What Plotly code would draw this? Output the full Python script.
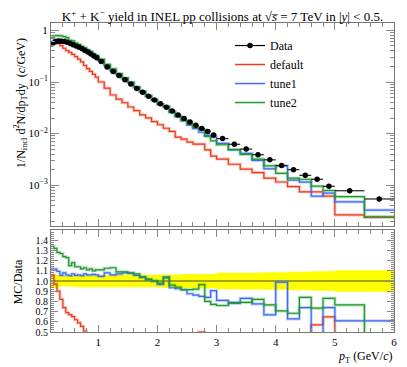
import plotly.graph_objects as go

# ---------------- data ----------------
bin_edges = [0.20, 0.25, 0.30, 0.35, 0.40, 0.45, 0.50, 0.55, 0.60, 0.65, 0.70, 0.75,
             0.80, 0.85, 0.90, 0.95, 1.00, 1.1, 1.2, 1.3, 1.4, 1.5, 1.6, 1.7, 1.8,
             1.9, 2.0, 2.1, 2.2, 2.3, 2.4, 2.5, 2.6, 2.7, 2.8, 2.9, 3.0, 3.2, 3.4,
             3.6, 3.8, 4.0, 4.2, 4.4, 4.6, 4.8, 5.0, 5.5, 6.0]

data_yield = [0.55, 0.60, 0.62, 0.62, 0.61, 0.59, 0.56, 0.53, 0.50, 0.47, 0.44, 0.41,
              0.38, 0.35, 0.32, 0.295, 0.25, 0.195, 0.16, 0.133, 0.11, 0.091, 0.075,
              0.063, 0.053, 0.045, 0.038, 0.0325, 0.0275, 0.023, 0.0195, 0.0167,
              0.0145, 0.0125, 0.011, 0.0094, 0.0080, 0.0062, 0.0050, 0.0039, 0.0031,
              0.0024, 0.0020, 0.00155, 0.0013, 0.00095, 0.00078, 0.00054]

data_rel_err = [0.065, 0.065, 0.06, 0.055, 0.055, 0.055, 0.055, 0.055, 0.06, 0.06, 0.06,
                0.06, 0.06, 0.06, 0.06, 0.06, 0.062, 0.062, 0.062, 0.062, 0.062, 0.062,
                0.062, 0.062, 0.062, 0.062, 0.065, 0.065, 0.065, 0.065, 0.068, 0.068,
                0.07, 0.07, 0.07, 0.07, 0.08, 0.08, 0.082, 0.082, 0.085, 0.085, 0.09,
                0.09, 0.095, 0.095, 0.105, 0.105]

# MC / Data ratios (and main panel where off-scale)
default_ratio = [1.06, 0.97, 0.90, 0.82, 0.74, 0.69, 0.67, 0.65, 0.62, 0.59, 0.556, 0.51,
                 0.48, 0.46, 0.44, 0.42, 0.40, 0.39, 0.35, 0.35, 0.36, 0.36, 0.37, 0.365,
                 0.38, 0.38, 0.39, 0.39, 0.40, 0.37, 0.40, 0.41, 0.43, 0.50, 0.44, 0.39,
                 0.40, 0.41, 0.41, 0.45, 0.44, 0.48, 0.47, 0.48, 0.57, 0.648, 0.34, 0.44]

tune1_ratio = [1.12, 1.118, 1.095, 1.056, 1.08, 1.06, 1.053, 1.07, 1.056, 1.06, 1.053,
               1.07, 1.06, 1.06, 1.065, 1.06, 1.046, 1.08, 1.06, 1.07, 1.08, 1.075, 1.056,
               1.036, 1.013, 1.0, 0.967, 1.04, 0.934, 0.924, 0.915, 0.875, 0.862, 0.85,
               0.84, 0.905, 0.81, 0.78, 0.83, 0.775, 0.668, 0.99, 0.628, 0.74, 0.47,
               0.74, 0.61, 0.61]

tune2_ratio = [1.34, 1.32, 1.28, 1.27, 1.24, 1.23, 1.15, 1.18, 1.14, 1.14, 1.12, 1.13,
               1.11, 1.12, 1.10, 1.11, 1.11, 1.125, 1.13, 1.09, 1.09, 1.08, 1.07, 1.04,
               1.02, 1.00, 0.98, 1.03, 0.96, 0.94, 0.915, 0.915, 0.92, 0.965, 0.80, 0.77,
               0.76, 0.79, 0.79, 0.82, 0.766, 0.707, 0.684, 0.84, 0.734, 0.83, 0.766, 0.45]

series_names = ["default", "tune1", "tune2"]
series_colors = ["#EE3A1E", "#3A6BF2", "#1E9A2A"]
series_ratios = [default_ratio, tune1_ratio, tune2_ratio]

x_ticks = [1, 2, 3, 4, 5, 6]
ratio_ticks = [0.5, 0.6, 0.7, 0.8, 0.9, 1.0, 1.1, 1.2, 1.3, 1.4]
log_ticks = [1e-3, 1e-2, 1e-1, 1]
log_ticktext = ["10<sup>−3</sup>", "10<sup>−2</sup>", "10<sup>−1</sup>", "1"]

# ---------------- derived ----------------
n = len(data_yield)
centers = [(bin_edges[i] + bin_edges[i + 1]) / 2 for i in range(n)]
halfw = [(bin_edges[i + 1] - bin_edges[i]) / 2 for i in range(n)]
data_err = [data_yield[i] * data_rel_err[i] for i in range(n)]

def steps(vals):
    return list(vals) + [vals[-1]]

FONT = "Liberation Serif"
fig = go.Figure()

# MC histograms (main panel)
for name, col, rat in zip(series_names, series_colors, series_ratios):
    mc = [data_yield[i] * rat[i] for i in range(n)]
    fig.add_trace(go.Scatter(x=bin_edges, y=steps(mc), mode="lines", line_shape="hv",
                             line=dict(color=col, width=3), opacity=0.3,
                             showlegend=False, hoverinfo="skip", xaxis="x", yaxis="y"))
    fig.add_trace(go.Scatter(x=bin_edges, y=steps(mc), mode="lines", line_shape="hv",
                             line=dict(color=col, width=1.2), name=name,
                             showlegend=False, xaxis="x", yaxis="y"))

# data points
fig.add_trace(go.Scatter(x=centers, y=data_yield, mode="markers",
                         marker=dict(color="black", size=5.5),
                         error_x=dict(type="data", array=halfw, color="#222", thickness=1.2, width=0),
                         error_y=dict(type="data", array=data_err, color="#222", thickness=1.2, width=0),
                         showlegend=False, xaxis="x", yaxis="y"))

# legend entries
fig.add_trace(go.Scatter(x=[None], y=[None], mode="lines+markers", name="Data",
                         line=dict(color="black", width=1.2), marker=dict(color="black", size=5.5),
                         xaxis="x", yaxis="y"))
for name, col in zip(series_names, series_colors):
    fig.add_trace(go.Scatter(x=[None], y=[None], mode="lines", name=name,
                             line=dict(color=col, width=1.5), xaxis="x", yaxis="y"))

# ratio panel: yellow data band
lo = [1 - e for e in data_rel_err]
hi = [1 + e for e in data_rel_err]
fig.add_trace(go.Scatter(x=bin_edges, y=steps(lo), mode="lines", line_shape="hv",
                         line=dict(width=0, color="#FFFF00"), showlegend=False,
                         hoverinfo="skip", xaxis="x2", yaxis="y2"))
fig.add_trace(go.Scatter(x=bin_edges, y=steps(hi), mode="lines", line_shape="hv",
                         line=dict(width=0, color="#FFFF00"), fill="tonexty",
                         fillcolor="#FFFF00", showlegend=False, hoverinfo="skip",
                         xaxis="x2", yaxis="y2"))
fig.add_trace(go.Scatter(x=[bin_edges[0], bin_edges[-1]], y=[1, 1], mode="lines",
                         line=dict(color="#4a4a30", width=1), showlegend=False,
                         xaxis="x2", yaxis="y2"))
for name, col, rat in zip(series_names, series_colors, series_ratios):
    fig.add_trace(go.Scatter(x=bin_edges, y=steps(rat), mode="lines", line_shape="hv",
                             line=dict(color=col, width=3), opacity=0.3,
                             showlegend=False, hoverinfo="skip", xaxis="x2", yaxis="y2"))
    fig.add_trace(go.Scatter(x=bin_edges, y=steps(rat), mode="lines", line_shape="hv",
                             line=dict(color=col, width=1.2), showlegend=False,
                             xaxis="x2", yaxis="y2"))

axis_common = dict(showline=True, linecolor="#777", linewidth=1, mirror="allticks",
                   ticks="inside", tickcolor="#888", showgrid=False, zeroline=False,
                   automargin=False)

log_minor = [k * 10.0 ** e for e in range(-4, 1) for k in range(2, 10)]
ratio_minor = [round(0.5 + 0.02 * i, 2) for i in range(0, 51)]

fig.update_layout(
    template="none",
    width=399, height=359,
    margin=dict(l=43, r=13, t=15, b=35),
    paper_bgcolor="white", plot_bgcolor="white",
    font=dict(family=FONT, color="black"),
    title=dict(text="K<sup>+</sup> + K<sup>−</sup> yield in INEL pp collisions at √<i>s\u0305</i> = 7 TeV in |<i>y</i>| &lt; 0.5.",
               x=0.5, xanchor="center", xref="paper", y=0.976, yanchor="middle",
               font=dict(family=FONT, size=13, color="black")),
    xaxis=dict(domain=[0, 1], range=[0.2, 6], anchor="y", showticklabels=False,
               tickvals=x_ticks, ticklen=7, tickwidth=1,
               minor=dict(dtick=0.2, tick0=0, ticks="inside", ticklen=4, tickcolor="#888"),
               **axis_common),
    yaxis=dict(domain=[0.343, 1], type="log", range=[-3.792, 0.144], anchor="x",
               tickvals=log_ticks, ticktext=log_ticktext, ticklen=8, tickwidth=1,
               tickfont=dict(family=FONT, size=11, color="black"),
               minor=dict(tickvals=log_minor, ticks="inside", ticklen=4, tickcolor="#888"),
               **axis_common),
    xaxis2=dict(domain=[0, 1], range=[0.2, 6], anchor="y2",
                tickvals=x_ticks, ticklen=7, tickwidth=1,
                tickfont=dict(family=FONT, size=11, color="black"),
                minor=dict(dtick=0.2, tick0=0, ticks="inside", ticklen=4, tickcolor="#888"),
                **axis_common),
    yaxis2=dict(domain=[0, 0.330], range=[0.5, 1.5], anchor="x2",
                tickvals=ratio_ticks, tickformat=".1f", ticklen=7, tickwidth=1,
                tickfont=dict(family=FONT, size=10, color="black"),
                minor=dict(tickvals=ratio_minor, ticks="inside", ticklen=3, tickcolor="#888"),
                **axis_common),
    legend=dict(x=0.522, y=0.974, xanchor="left", yanchor="top", traceorder="normal",
                bgcolor="rgba(0,0,0,0)", borderwidth=0,
                font=dict(family=FONT, size=12, color="black"), tracegroupgap=0),
    annotations=[
        dict(text="1/N<sub>incl</sub> d<sup>2</sup>N/dp<sub>T</sub>dy  (<i>c</i>/GeV)",
             xref="paper", yref="paper", x=-0.088, y=0.74, textangle=-90,
             showarrow=False, xanchor="center", yanchor="middle",
             font=dict(family=FONT, size=12, color="black")),
        dict(text="MC/Data", xref="paper", yref="paper", x=-0.095, y=0.162,
             textangle=-90, showarrow=False, xanchor="center", yanchor="middle",
             font=dict(family=FONT, size=12, color="black")),
        dict(text="<i>p</i><sub>T</sub> (GeV/<i>c</i>)", xref="paper", yref="paper",
             x=1.0, y=-0.082, xanchor="right", yanchor="middle", showarrow=False,
             font=dict(family=FONT, size=12, color="black")),
    ],
)

fig.write_html("out.html")
